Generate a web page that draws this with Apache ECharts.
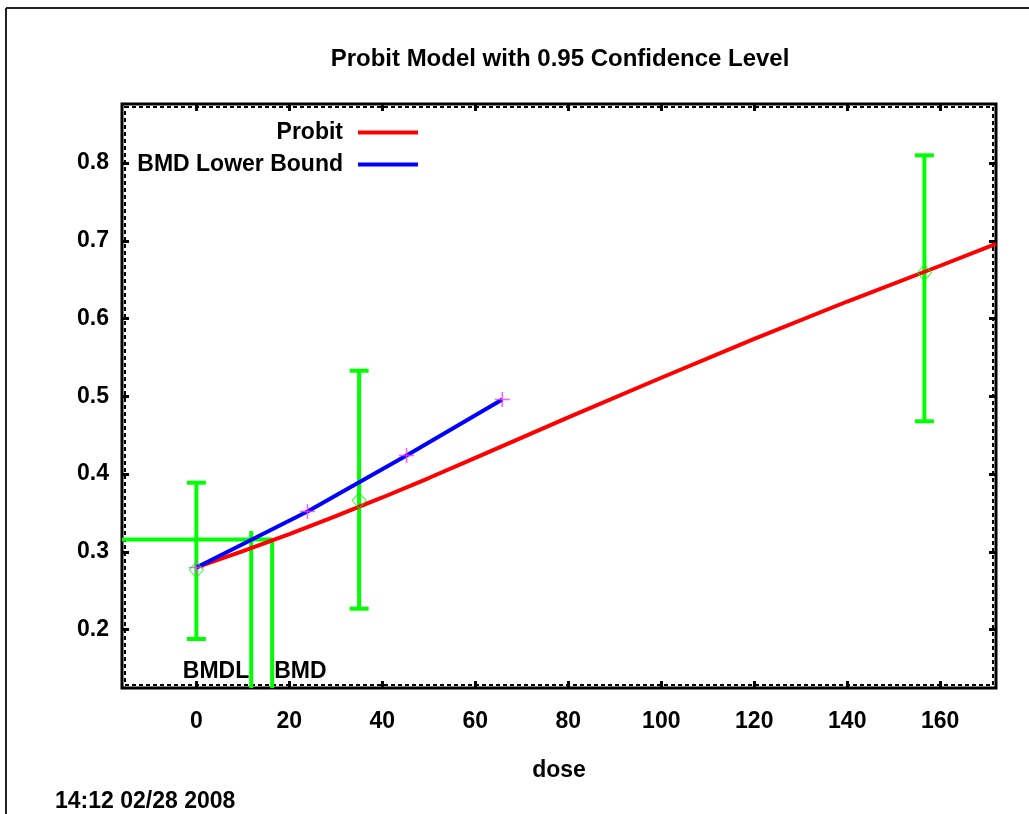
<!DOCTYPE html>
<html>
<head>
<meta charset="utf-8">
<script src="https://cdn.jsdelivr.net/npm/echarts@6/dist/echarts.min.js"></script>
<style>
    html, body {margin: 0; padding: 0; background: #fff;}
    #chart {width: 1029px; height: 814px;}
</style>
</head>
<body>
<div id="chart"></div>
<script>
    // observed dose groups with 95% error bars
    const obsDose = [0, 35, 156.6]
    const obsResp = [0.277, 0.366, 0.659]
    const obsLow = [0.188, 0.227, 0.468]
    const obsHigh = [0.389, 0.533, 0.810]

    // fitted probit curve
    const probitDose = [0, 10, 20, 30, 40, 50, 60, 80, 100, 120, 140, 160, 172]
    const probitResp = [0.280, 0.301, 0.323, 0.346, 0.370, 0.395, 0.421, 0.473, 0.524, 0.574, 0.622, 0.668, 0.696]

    // BMD lower bound line
    const lowerDose = [0, 23.9, 45.2, 65.8]
    const lowerResp = [0.280, 0.352, 0.424, 0.496]

    // benchmark values
    const bmr = 0.316
    const bmd = 16.3
    const bmdl = 11.8
    const bmdlTop = 0.327
    const bmdLabelY = 0.146

    const xTicks = [0, 20, 40, 60, 80, 100, 120, 140, 160]
    const yTicks = [0.2, 0.3, 0.4, 0.5, 0.6, 0.7, 0.8]
    const xMin = -16, xMax = 172, yMin = 0.125, yMax = 0.876

    const FONT = "'Liberation Sans', Arial, sans-serif"
    const FS = 23
    const green = '#00ff00'

    const myChart = echarts.init(document.getElementById('chart'))

    const pairs = (xs, ys) => xs.map((x, i) => [x, ys[i]])

    const gridBox = {left: 122, top: 104, width: 874, height: 584}

    const tickStyle = {show: true, inside: true, length: 7, lineStyle: {color: '#000', width: 3}}
    const noLine = {show: false, onZero: false}

    const option = {
        animation: false,
        grid: {
            left: gridBox.left, top: gridBox.top, width: gridBox.width, height: gridBox.height,
            show: true, borderColor: '#000', borderWidth: 3
        },
        graphic: [
            {type: 'line', shape: {x1: 6, y1: 8, x2: 1029, y2: 8}, style: {stroke: '#222', lineWidth: 2}},
            {type: 'line', shape: {x1: 6, y1: 8, x2: 6, y2: 814}, style: {stroke: '#222', lineWidth: 2}},
            {
                type: 'rect', silent: true, z: 1,
                shape: {x: gridBox.left + 3, y: gridBox.top + 3, width: gridBox.width - 6, height: gridBox.height - 6},
                style: {fill: null, stroke: '#000', lineWidth: 2, lineDash: [4, 3]}
            },
            {
                type: 'text', x: 560, y: 59,
                style: {text: 'Probit Model with 0.95 Confidence Level', font: 'bold 24px ' + FONT,
                    fill: '#000', textAlign: 'center', textVerticalAlign: 'middle'}
            },
            {
                type: 'text', x: 55, y: 802,
                style: {text: '14:12 02/28 2008', font: 'bold ' + FS + 'px ' + FONT,
                    fill: '#000', textAlign: 'left', textVerticalAlign: 'middle'}
            }
        ],
        legend: [
            {
                data: ['Probit'], right: 606, top: 116, orient: 'vertical', align: 'right',
                icon: 'rect', itemWidth: 60, itemHeight: 4, selectedMode: false,
                textStyle: {fontFamily: FONT, fontWeight: 'bold', fontSize: FS, color: '#000', padding: [0, 10, 0, 0]}
            },
            {
                data: ['BMD Lower Bound'], right: 606, top: 148, orient: 'vertical', align: 'right',
                icon: 'rect', itemWidth: 60, itemHeight: 4, selectedMode: false,
                textStyle: {fontFamily: FONT, fontWeight: 'bold', fontSize: FS, color: '#000', padding: [0, 10, 0, 0]}
            }
        ],
        xAxis: [
            {
                type: 'value', min: xMin, max: xMax, position: 'bottom',
                name: 'dose', nameLocation: 'middle', nameGap: 71,
                nameTextStyle: {fontFamily: FONT, fontWeight: 'bold', fontSize: FS, color: '#000'},
                axisLine: noLine, splitLine: {show: false},
                axisTick: {...tickStyle, customValues: xTicks},
                axisLabel: {customValues: xTicks, margin: 22, fontFamily: FONT, fontWeight: 'bold', fontSize: FS, color: '#000'}
            },
            {
                type: 'value', min: xMin, max: xMax, position: 'top',
                axisLine: noLine, splitLine: {show: false},
                axisTick: {...tickStyle, customValues: xTicks},
                axisLabel: {show: false}
            }
        ],
        yAxis: [
            {
                type: 'value', min: yMin, max: yMax, position: 'left',
                axisLine: noLine, splitLine: {show: false},
                axisTick: {...tickStyle, customValues: yTicks},
                axisLabel: {customValues: yTicks, margin: 13, fontFamily: FONT, fontWeight: 'bold', fontSize: FS, color: '#000',
                    formatter: v => v.toFixed(1)}
            },
            {
                type: 'value', min: yMin, max: yMax, position: 'right',
                axisLine: noLine, splitLine: {show: false},
                axisTick: {...tickStyle, customValues: yTicks},
                axisLabel: {show: false}
            }
        ],
        series: [
            {
                // error bars
                type: 'custom',
                z: 2,
                data: obsDose.map((d, i) => [d, obsLow[i], obsHigh[i]]),
                renderItem: (params, api) => {
                    const lo = api.coord([api.value(0), api.value(1)])
                    const hi = api.coord([api.value(0), api.value(2)])
                    const w = 9.5
                    const style = {stroke: green, lineWidth: 4}
                    return {
                        type: 'group',
                        children: [
                            {type: 'line', shape: {x1: lo[0], y1: lo[1], x2: hi[0], y2: hi[1]}, style},
                            {type: 'line', shape: {x1: lo[0] - w, y1: lo[1], x2: lo[0] + w, y2: lo[1]}, style},
                            {type: 'line', shape: {x1: hi[0] - w, y1: hi[1], x2: hi[0] + w, y2: hi[1]}, style}
                        ]
                    }
                }
            },
            {
                // BMR level to BMD
                type: 'line', z: 2, symbol: 'none',
                lineStyle: {color: green, width: 4},
                data: [[xMin, bmr], [bmd, bmr], [bmd, yMin]]
            },
            {
                type: 'line', z: 2, symbol: 'none',
                lineStyle: {color: green, width: 4},
                data: [[bmdl, yMin], [bmdl, bmdlTop]]
            },
            {
                name: 'Probit', type: 'line', z: 3, symbol: 'none',
                color: '#ff0000',
                lineStyle: {color: '#ff0000', width: 4},
                data: pairs(probitDose, probitResp)
            },
            {
                name: 'BMD Lower Bound', type: 'line', z: 3, symbol: 'none',
                color: '#0000ff',
                lineStyle: {color: '#0000ff', width: 4},
                data: pairs(lowerDose, lowerResp)
            },
            {
                type: 'scatter', z: 4,
                symbol: 'path://M0,5L10,5M5,0L5,10', symbolSize: 15,
                itemStyle: {color: 'rgba(0,0,0,0)', borderColor: '#ff33ff', borderWidth: 1.5},
                data: pairs(lowerDose, lowerResp)
            },
            {
                type: 'scatter', z: 4,
                symbol: 'diamond', symbolSize: [14, 16],
                itemStyle: {color: 'rgba(0,0,0,0)', borderColor: green, borderWidth: 1},
                data: pairs(obsDose, obsResp)
            }
        ]
    }

    option && myChart.setOption(option)

    // BMDL / BMD text labels placed through the axis scales
    const pBmdl = myChart.convertToPixel({gridIndex: 0}, [bmdl, bmdLabelY])
    const pBmd = myChart.convertToPixel({gridIndex: 0}, [bmd, bmdLabelY])
    myChart.setOption({
        graphic: option.graphic.concat([
            {
                type: 'text', x: pBmdl[0] - 2, y: pBmdl[1], z: 10,
                style: {text: 'BMDL', font: 'bold ' + FS + 'px ' + FONT, fill: '#000',
                    textAlign: 'right', textVerticalAlign: 'middle'}
            },
            {
                type: 'text', x: pBmd[0] + 2, y: pBmd[1], z: 10,
                style: {text: 'BMD', font: 'bold ' + FS + 'px ' + FONT, fill: '#000',
                    textAlign: 'left', textVerticalAlign: 'middle'}
            }
        ])
    })
</script>
</body>
</html>
